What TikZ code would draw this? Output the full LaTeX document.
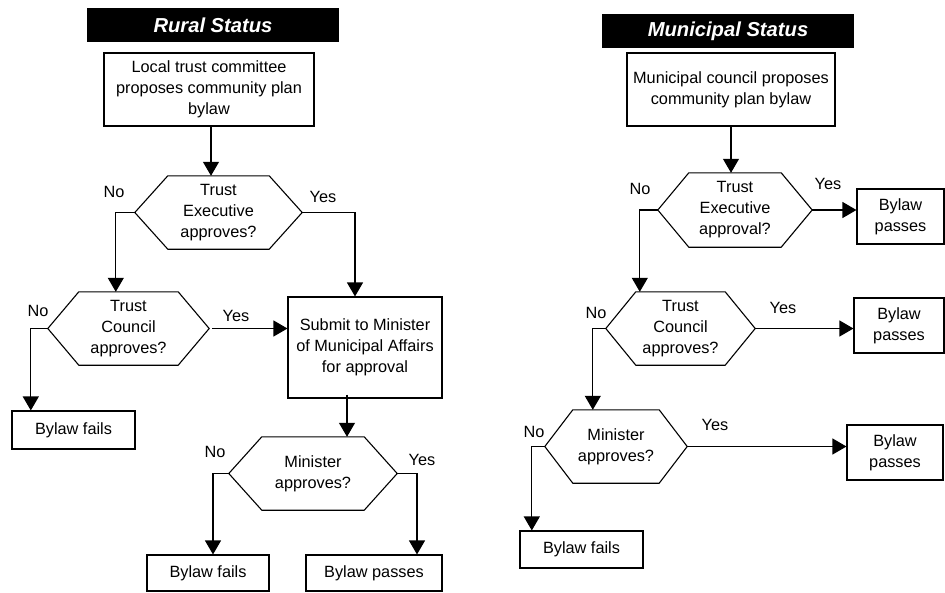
\documentclass[tikz,border=0pt]{standalone}
\usepackage{fontspec}
\setmainfont{Liberation Sans}
\usetikzlibrary{arrows.meta}
\begin{document}
\begin{tikzpicture}[x=1pt,y=-1pt,
  every node/.style={font=\fontsize{16.3}{21}\selectfont, inner sep=0pt, align=center},
  box/.style={draw, line width=1.1pt, minimum width=#1},
  hexa/.style={minimum width=#1},
  titlebox/.style={fill=black, text=white, font=\fontsize{20.2}{24}\selectfont\bfseries\itshape},
  lbl/.style={},
  conn/.style={line width=1.1pt},
  arr/.style={conn, -{Triangle[length=14pt,width=16pt]}}
]
\useasboundingbox (0,0) rectangle (945,592);

% ---------- Rural ----------
\node[titlebox, minimum width=252pt, minimum height=34pt] (t1) at (213,25) {Rural Status};
\node[box=210pt, minimum height=73pt] (b1) at (209,89.5) {Local trust committee\\proposes community plan\\bylaw};
\node[hexa=167pt, minimum height=73pt] (h1) at (218.5,212.5) {Trust\\Executive\\approves?};
\node[hexa=161pt, minimum height=73pt] (h2) at (128.5,328.5) {Trust\\Council\\approves?};
\node[box=154pt, minimum height=101pt] (sb) at (365,347.5) {Submit to Minister\\of Municipal Affairs\\for approval};
\node[box=123pt, minimum height=38pt] (f1) at (73.5,430) {Bylaw fails};
\node[hexa=168pt, minimum height=73pt] (h3) at (313,473.5) {Minister\\approves?};
\node[box=122pt, minimum height=36pt] (f2) at (208,573) {Bylaw fails};
\node[box=136pt, minimum height=36pt] (p2) at (374,573) {Bylaw passes};

\node[lbl] (l1) at (114,192) {No};
\node[lbl] (l2) at (323,197) {Yes};
\node[lbl] (l3) at (38,311) {No};
\node[lbl] (l4) at (236,316) {Yes};
\node[lbl] (l5) at (215,452) {No};
\node[lbl] (l6) at (422,460) {Yes};

% ---------- Municipal ----------
\node[titlebox, minimum width=252pt, minimum height=34pt] (t2) at (728,31) {Municipal Status};
\node[box=208pt, minimum height=73pt] (m1) at (731,89.5) {Municipal council proposes\\community plan bylaw};
\node[hexa=154pt, minimum height=74pt] (h4) at (735,210) {Trust\\Executive\\approval?};
\node[box=87pt, minimum height=55pt] (q1) at (900.5,216.5) {Bylaw\\passes};
\node[hexa=149pt, minimum height=73pt] (h5) at (680.5,328.5) {Trust\\Council\\approves?};
\node[box=90pt, minimum height=55pt] (q2) at (899,325.5) {Bylaw\\passes};
\node[hexa=142pt, minimum height=73pt] (h6) at (616,446.5) {Minister\\approves?};
\node[box=96pt, minimum height=55pt] (q3) at (895,452.5) {Bylaw\\passes};
\node[box=123pt, minimum height=37pt] (f3) at (581.5,549.5) {Bylaw fails};

\node[lbl] (l7) at (640,189) {No};
\node[lbl] (l8) at (828,184) {Yes};
\node[lbl] (l9) at (596,313) {No};
\node[lbl] (l10) at (783,308) {Yes};
\node[lbl] (l11) at (534,432) {No};
\node[lbl] (l12) at (715,425) {Yes};

% hexagon outlines
\foreach \n/\i in {h1/33,h2/31,h3/33,h4/31,h5/30,h6/28}
  \draw[line width=1.1pt, line join=miter] (\n.west) -- ([xshift=\i pt]\n.north west) -- ([xshift=-\i pt]\n.north east)
    -- (\n.east) -- ([xshift=-\i pt]\n.south east) -- ([xshift=\i pt]\n.south west) -- cycle;

% ---------- Rural connectors ----------
\draw[arr] ([xshift=2pt]b1.south) -- ([xshift=2pt]b1.south |- h1.north);
\draw[arr] (h1.west) -- ++(-19,0) coordinate (n1) -- (n1 |- h2.north);
\draw[arr] (h1.east) -| ([xshift=-10pt]sb.north);
\draw[arr] (h2.west) -- ++(-17,0) coordinate (n2) -- (n2 |- f1.north);
\draw[arr] ([xshift=3pt]h2.east) -- (h2.east -| sb.west);
\draw[arr] ([xshift=-18pt,yshift=4pt]sb.south) coordinate (s1) -- (s1 |- h3.north);
\draw[arr] (h3.west) -| ([xshift=5pt]f2.north);
\draw[arr] (h3.east) -| ([xshift=43pt]p2.north);

% ---------- Municipal connectors ----------
\draw[arr] (m1.south) -- (m1.south |- h4.north);
\draw[arr] (h4.east) -- (h4.east -| q1.west);
\draw[arr] (h4.west) -- ++(-18,0) coordinate (n4) -- (n4 |- h5.north);
\draw[arr] (h5.east) -- (h5.east -| q2.west);
\draw[arr] (h5.west) -- ++(-13,0) coordinate (n5) -- (n5 |- h6.north);
\draw[arr] (h6.east) -- (h6.east -| q3.west);
\draw[arr] (h6.west) -- ++(-13,0) coordinate (n6) -- (n6 |- f3.north);
\end{tikzpicture}
\end{document}
